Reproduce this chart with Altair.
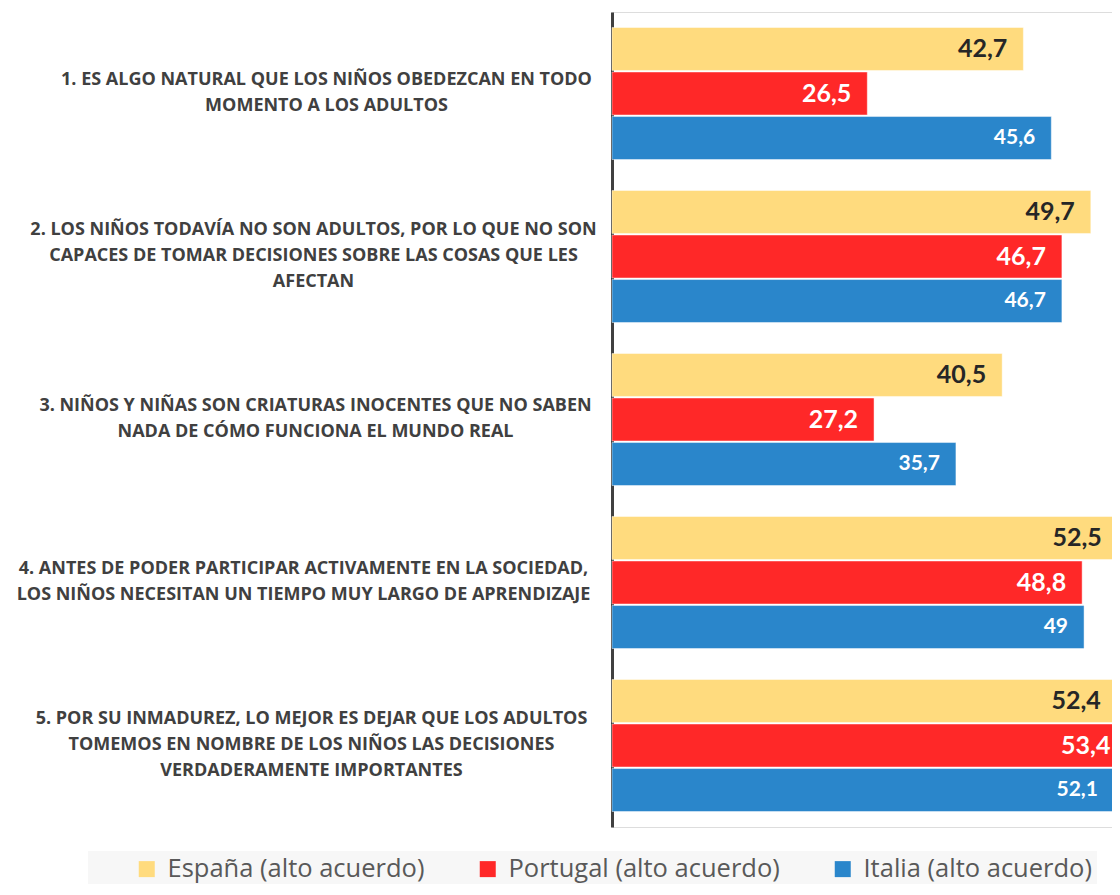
import altair as alt
import pandas as pd

# ---- data ----
questions = [
    ["1. ES ALGO NATURAL QUE LOS NIÑOS OBEDEZCAN EN TODO", "MOMENTO A LOS ADULTOS"],
    ["2. LOS NIÑOS TODAVÍA NO SON ADULTOS, POR LO QUE NO SON",
     "CAPACES DE TOMAR DECISIONES SOBRE LAS COSAS QUE LES", "AFECTAN"],
    ["3. NIÑOS Y NIÑAS SON CRIATURAS INOCENTES QUE NO SABEN", "NADA DE CÓMO FUNCIONA EL MUNDO REAL"],
    ["4. ANTES DE PODER PARTICIPAR ACTIVAMENTE EN LA SOCIEDAD,",
     "LOS NIÑOS NECESITAN UN TIEMPO MUY LARGO DE APRENDIZAJE"],
    ["5. POR SU INMADUREZ, LO MEJOR ES DEJAR QUE LOS ADULTOS",
     "TOMEMOS EN NOMBRE DE LOS NIÑOS LAS DECISIONES", "VERDADERAMENTE IMPORTANTES"],
]
series = ["España (alto acuerdo)", "Portugal (alto acuerdo)", "Italia (alto acuerdo)"]
espana = [42.7, 49.7, 40.5, 52.5, 52.4]
portugal = [26.5, 46.7, 27.2, 48.8, 53.4]
italia = [45.6, 46.7, 35.7, 49, 52.1]
colors = ["#FFDB7E", "#FF2828", "#2A86CB"]

q_labels = ["|".join(q) for q in questions]
rows = []
for s, vals in zip(series, [espana, portugal, italia]):
    for q, v in zip(q_labels, vals):
        rows.append({"pregunta": q, "pais": s, "valor": v})
df = pd.DataFrame(rows)

VAL_FONT = "Lato"
TXT_FONT = "Open Sans"

# per-label horizontal centring (block centred, widest line near the axis)
pad_cond = {
    "condition": [
        {"test": "indexof(datum.value, '1.') == 0", "value": 286},
        {"test": "indexof(datum.value, '2.') == 0", "value": 299},
        {"test": "indexof(datum.value, '4.') == 0", "value": 309},
        {"test": "indexof(datum.value, '5.') == 0", "value": 301},
    ],
    "value": 297,
}
off_cond = {
    "condition": {"test": "length(split(datum.value, '|')) == 3", "value": -27},
    "value": -14,
}

y_enc = alt.Y(
    "pregunta:N",
    sort=q_labels,
    scale=alt.Scale(paddingInner=0.19, paddingOuter=0.095),
    axis=alt.Axis(
        title=None,
        ticks=False,
        tickSize=0,
        labelExpr="split(datum.label, '|')",
        labelAlign="center",
        labelBaseline="middle",
        labelPadding=pad_cond,
        labelOffset=off_cond,
        labelLimit=0,
        labelFont=TXT_FONT,
        labelFontSize=18,
        labelFontWeight="bold",
        labelColor="#404040",
        labelLineHeight=26,
        domainColor="#404040",
        domainWidth=3,
        grid=False,
    ),
)
yoff = alt.YOffset("pais:N", sort=series, scale=alt.Scale(paddingInner=0.035, paddingOuter=0))
x_enc = alt.X("valor:Q", scale=alt.Scale(domain=[0, 51.9], nice=False, zero=True), axis=None)

base = alt.Chart(df)

bars = base.mark_bar(stroke="white", strokeWidth=1, strokeOpacity=0.45).encode(
    x=x_enc,
    y=y_enc,
    yOffset=yoff,
    color=alt.Color(
        "pais:N",
        sort=series,
        scale=alt.Scale(domain=series, range=colors),
        legend=alt.Legend(
            orient="none",
            legendX=-524,
            legendY=839,
            direction="horizontal",
            columns=3,
            title=" ",
            titleOrient="left",
            titlePadding=41,
            titleFontSize=10,
            symbolType="square",
            symbolSize=256,
            symbolStrokeWidth=0,
            labelFont=TXT_FONT,
            labelFontSize=25.5,
            labelColor="#595959",
            labelLimit=600,
            labelOffset=8,
            columnPadding=50,
            fillColor="#F7F7F7",
            padding=5,
        ),
    ),
)

labels = base.transform_calculate(
    txt="replace(toString(datum.valor), '.', ',')"
).mark_text(align="right", baseline="middle", dx=-16, font=VAL_FONT, fontWeight="bold").encode(
    x=x_enc,
    y=alt.Y("pregunta:N", sort=q_labels),
    yOffset=alt.YOffset("pais:N", sort=series),
    text="txt:N",
    color=alt.condition(alt.datum.pais == series[0], alt.value("#262626"), alt.value("white")),
    size=alt.condition(alt.datum.pais == series[2], alt.value(21), alt.value(25)),
)

chart = (
    alt.layer(bars, labels)
    .properties(
        width=500,
        height=815,
        autosize=alt.AutoSizeParams(type="none"),
        padding={"left": 604, "top": 4, "right": 0, "bottom": 57},
    )
    .configure_view(strokeWidth=0)
    .configure(background="white")
)

chart.save("out.html", embed_options={"renderer": "svg", "actions": False})
